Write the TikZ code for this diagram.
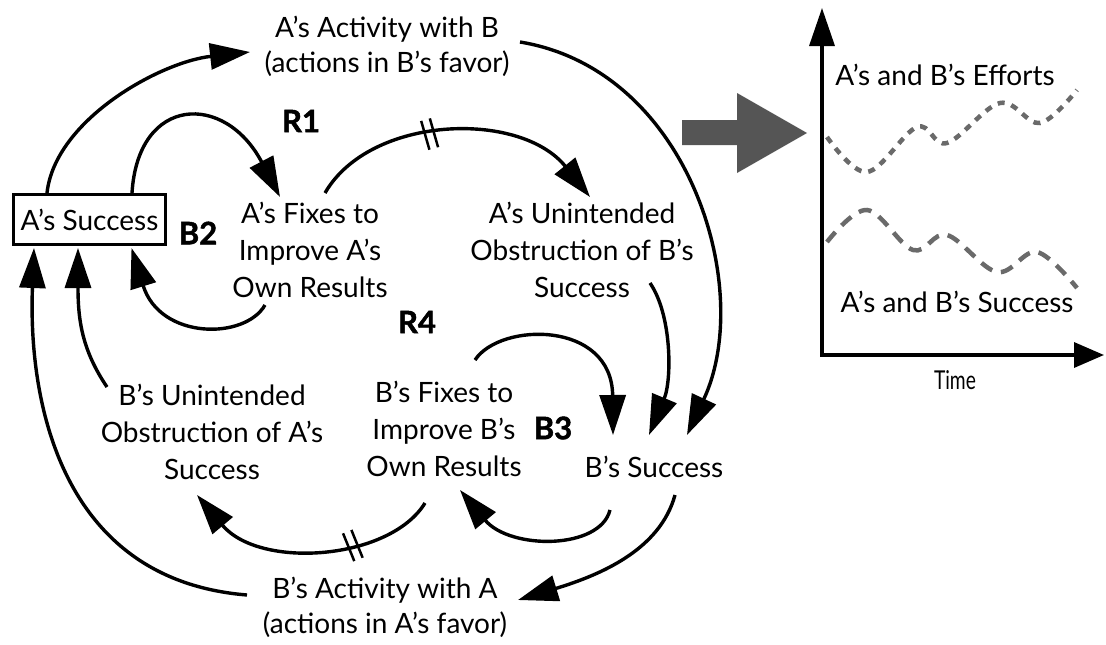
\documentclass[tikz,border=0pt]{standalone}
\usepackage{fontspec}
\setmainfont{Lato}
\newfontfamily\heavyfont{Lato Bold}[FakeBold=1.6]
\usetikzlibrary{arrows.meta}
\definecolor{arrowgray}{HTML}{555555}
\definecolor{curvegray}{HTML}{6A6A6A}
\begin{document}
\begin{tikzpicture}[x=1pt,y=-1pt,
  txt/.style={font=\fontsize{28}{37}\selectfont, align=center, inner sep=0pt},
  txttwo/.style={font=\fontsize{28}{35}\selectfont, align=center, inner sep=0pt},
  looplabel/.style={font=\fontsize{31}{34}\heavyfont, inner sep=0pt},
  link/.style={line width=3.4pt, -{Triangle[length=40pt,width=26pt]}},
  delaymark/.pic={\draw[-, line width=2.5pt] (-4.5,-15) -- (-4.5,15) (4.5,-15) -- (4.5,15);},
  axisline/.style={line width=3.4pt, line join=miter,
    {Triangle[length=38pt,width=25pt]}-{Triangle[length=30pt,width=25pt]}},
  wave/.style={curvegray, line width=4.5pt},
]
\useasboundingbox (0,0) rectangle (1106,645);

% ---- causal loop diagram ----
\node[draw, line width=2.6pt, minimum width=152pt, minimum height=50pt,
      inner sep=0pt, font=\fontsize{28}{34}\selectfont] (as) at (89.5,219.5) {A’s Success};
\node[txttwo] (aab) at (387,46.5) {A’s Activity with B\\(actions in B’s favor)};
\node[txt] (afix) at (310,249.5) {A’s Fixes to\\Improve A’s\\Own Results};
\node[txt] (aun) at (582,249.5) {A’s Unintended\\Obstruction of B’s\\Success};
\node[txt] (bun) at (212,431.5) {B’s Unintended\\Obstruction of A’s\\Success};
\node[txt] (bfix) at (444,428.5) {B’s Fixes to\\Improve B’s\\Own Results};
\node[txt] (bsucc) at (654,467) {B’s Success};
\node[txttwo] (bab) at (385,607.5) {B’s Activity with A\\(actions in A’s favor)};

\node[looplabel] (r1) at (301,121) {R1};
\node[looplabel] (b2) at (198,233) {B2};
\node[looplabel] (r4) at (417,322) {R4};
\node[looplabel] (b3) at (553,428) {B3};

% links
\draw[link] ([shift={(-42.5,-26.5)}]as.center) .. controls (55,120) and (160,62) .. ([shift={(-137,5.5)}]aab.center);
\draw[link] ([shift={(42.5,-26.5)}]as.center) .. controls (138,95) and (225,92) .. ([shift={(-30,-52.5)}]afix.center);
\draw[link] ([shift={(15,-56.5)}]afix.center) .. controls (370,115) and (520,110) .. ([shift={(8,-52.5)}]aun.center)
   pic[pos=0.44, rotate=16] {delaymark};
\draw[link] ([shift={(-45,55.5)}]afix.center) .. controls (245,340) and (160,340) .. ([shift={(42,28.5)}]as.center);
\draw[link] ([shift={(133,-4.5)}]aab.center) .. controls (690,70) and (755,290) .. ([shift={(33,-32)}]bsucc.center);
\draw[link] ([shift={(68,33.5)}]aun.center) .. controls (672,315) and (672,380) .. ([shift={(-5,-32)}]bsucc.center);
\draw[link] ([shift={(31,-68.5)}]bfix.center) .. controls (500,322) and (612,320) .. ([shift={(-41,-32)}]bsucc.center);
\draw[link] ([shift={(21,28)}]bsucc.center) .. controls (660,550) and (600,575) .. ([shift={(133,-7.5)}]bab.center);
\draw[link] ([shift={(-44,43)}]bsucc.center) .. controls (600,550) and (510,550) .. ([shift={(16,61.5)}]bfix.center);
\draw[link] ([shift={(-19,74.5)}]bfix.center) .. controls (390,560) and (260,570) .. ([shift={(-15,63.5)}]bun.center)
   pic[pos=0.38, rotate=22] {delaymark};
\draw[link] ([shift={(-138,-12.5)}]bab.center) .. controls (60,580) and (28,400) .. ([shift={(-55.5,28.5)}]as.center);
\draw[link] ([shift={(-105,-44.5)}]bun.center) .. controls (82,350) and (78,320) .. ([shift={(-11.5,28.5)}]as.center);

% ---- transition arrow ----
\fill[arrowgray] (682,120) -- (737,120) -- (737,93) -- (807,133) -- (737,173) -- (737,145) -- (682,145) -- cycle;

% ---- behaviour over time ----
\coordinate (origin) at (822,355);
\coordinate (ytip) at (822,8);
\coordinate (xtip) at (1104,355);
\draw[axisline] (ytip) -- (origin) -- (xtip);

\draw[wave, dash pattern=on 7pt off 7pt] plot[smooth, tension=0.6] coordinates
  {(827,137) (867,172) (917,127) (947,143) (1000,103) (1040,123) (1077,90)};
\draw[wave, dash pattern=on 13pt off 9pt] plot[smooth, tension=0.6] coordinates
  {(827,242) (867,210) (913,250) (947,235) (997,272) (1037,252) (1077,288)};

\node[txt] (effl) at (945,75) {A’s and B’s Efforts};
\node[txt] (succl) at (957,302) {A’s and B’s Success};
\node[font=\fontsize{26}{30}\selectfont, inner sep=0pt] (timel) at (955,380) {\scalebox{0.74}[1]{Time}};
\end{tikzpicture}
\end{document}
